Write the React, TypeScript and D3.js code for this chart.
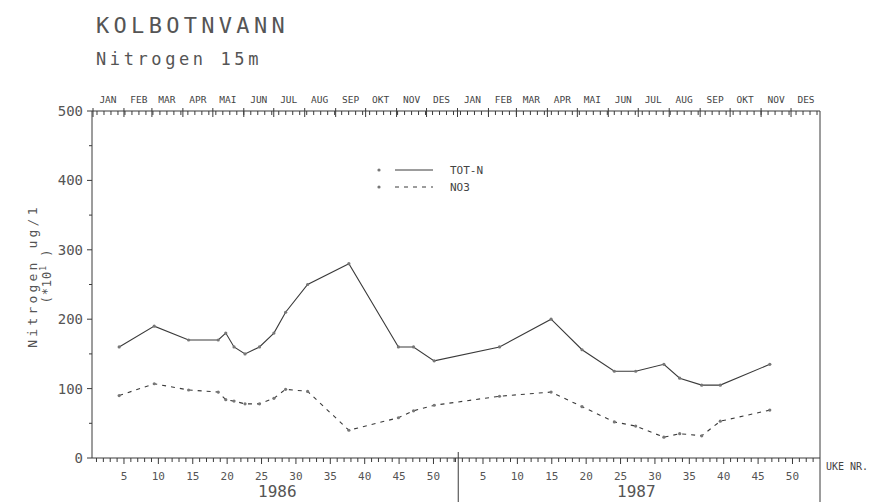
import { useEffect, useRef } from "react";
import * as d3 from "d3";

// sampling weeks (UKE NR.) per year
const sampleYear = [
  1986, 1986, 1986, 1986, 1986, 1986, 1986, 1986, 1986, 1986, 1986, 1986, 1986, 1986, 1986,
  1987, 1987, 1987, 1987, 1987, 1987, 1987, 1987, 1987, 1987,
];
const sampleWeek = [
  4.3, 9.4, 14.4, 18.7, 19.8, 21, 22.6, 24.7, 26.8, 28.5, 31.7, 37.7, 44.9, 47.1, 50.1,
  7.4, 14.9, 19.4, 24.1, 27.2, 31.3, 33.6, 36.8, 39.5, 46.7,
];
const totN = [
  160, 190, 170, 170, 180, 160, 150, 160, 180, 210, 250, 280, 160, 160, 140,
  160, 200, 156, 125, 125, 135, 115, 105, 105, 135,
];
const no3 = [
  90, 107, 98, 95, 84, 82, 78, 78, 86, 99, 96, 40, 58, 68, 76,
  89, 95, 74, 52, 46, 30, 35, 32, 53, 69,
];

const years = [1986, 1987];
const monthLabels = ["JAN", "FEB", "MAR", "APR", "MAI", "JUN", "JUL", "AUG", "SEP", "OKT", "NOV", "DES"];
const yTicks = [0, 100, 200, 300, 400, 500];
const weekLabels = [5, 10, 15, 20, 25, 30, 35, 40, 45, 50];

const INK = "#3a3a3a";
const TXT = "#555";
const MONO = "'DejaVu Sans Mono', 'Liberation Mono', monospace";

export default function App() {
  const svgRef = useRef<SVGSVGElement>(null);

  useEffect(() => {
    if (!svgRef.current) return;
    const svg = d3.select(svgRef.current);
    svg.selectAll("*").remove();

    const left = 92, right = 820, top = 111, bottom = 458;
    const yearOffset = (yr: number) => (yr === 1986 ? 0 : 52.2);

    // continuous week index across both years
    const x = d3.scaleLinear().domain([0.35, 106.2]).range([left, right]);
    // calendar scale for the month axis on top
    const xDate = d3
      .scaleTime()
      .domain([new Date(1986, 0, 1), new Date(1988, 0, 1)])
      .range([left + 1, right + 2]);
    const y = d3.scaleLinear().domain([0, 500]).range([bottom, top]);

    // titles
    svg.append("text").attr("x", 96).attr("y", 33).text("KOLBOTNVANN")
      .style("font-family", MONO).style("font-size", "22px").style("letter-spacing", "4.3px")
      .style("fill", TXT).style("font-weight", 300);
    svg.append("text").attr("x", 96).attr("y", 65).text("Nitrogen 15m")
      .style("font-family", MONO).style("font-size", "17px").style("letter-spacing", "3.6px")
      .style("fill", TXT);

    const g = svg.append("g").style("stroke", INK).style("stroke-width", "1px");

    // frame
    g.append("line").attr("x1", left).attr("x2", left).attr("y1", top).attr("y2", bottom);
    g.append("line").attr("x1", left).attr("x2", right).attr("y1", bottom).attr("y2", bottom);
    g.append("line").attr("x1", left).attr("x2", right).attr("y1", top).attr("y2", top);
    g.append("line").attr("x1", right).attr("x2", right).attr("y1", top).attr("y2", 502);
    g.append("line").attr("x1", x(53.6)).attr("x2", x(53.6)).attr("y1", bottom - 6).attr("y2", 502);

    // y axis ticks
    d3.range(0, 501, 50).forEach((v) => {
      g.append("line").attr("x1", left - (v % 100 === 0 ? 5 : 3)).attr("x2", left)
        .attr("y1", y(v)).attr("y2", y(v));
    });
    svg.append("g").selectAll("text").data(yTicks).enter().append("text")
      .attr("x", left - 9).attr("y", (d) => y(d)).attr("dy", "0.35em")
      .attr("text-anchor", "end").text((d) => d)
      .style("font-family", MONO).style("font-size", "14px").style("fill", TXT);

    // week ticks, bottom and top
    years.forEach((yr) => {
      d3.range(1, 54).forEach((w) => {
        const xx = x(yearOffset(yr) + w);
        if (xx > right) return;
        const big = w % 5 === 0;
        g.append("line").attr("x1", xx).attr("x2", xx)
          .attr("y1", bottom).attr("y2", bottom + (big ? 6 : 4));
      });
      svg.append("g").selectAll("text").data(weekLabels).enter().append("text")
        .attr("x", (d) => x(yearOffset(yr) + d)).attr("y", bottom + 22)
        .attr("text-anchor", "middle").text((d) => d)
        .style("font-family", MONO).style("font-size", "11px").style("fill", TXT);
      svg.append("text").attr("x", x(yearOffset(yr) + 27.3)).attr("y", 497)
        .attr("text-anchor", "middle").text(yr)
        .style("font-family", MONO).style("font-size", "16px").style("fill", TXT);
    });

    // top month axis
    const weekDays = d3.timeWeek.every(1)!.range(new Date(1986, 0, 1), new Date(1987, 11, 31));
    weekDays.forEach((d) => {
      g.append("line").attr("x1", xDate(d)).attr("x2", xDate(d)).attr("y1", top).attr("y2", top + 4);
    });
    const months = d3.timeMonth.range(new Date(1986, 0, 1), new Date(1988, 0, 1));
    months.forEach((m) => {
      g.append("line").attr("x1", xDate(m)).attr("x2", xDate(m)).attr("y1", top - 3).attr("y2", top + 6);
      const mid = new Date(m.getFullYear(), m.getMonth(), 16);
      svg.append("text").attr("x", xDate(mid)).attr("y", top - 8)
        .attr("text-anchor", "middle").text(monthLabels[m.getMonth()])
        .style("font-family", MONO).style("font-size", "9.5px").style("fill", "#444");
    });

    svg.append("text").attr("x", 826).attr("y", bottom + 12).text("UKE NR.")
      .style("font-family", MONO).style("font-size", "10px").style("fill", "#444");

    // y axis title
    svg.append("text").attr("transform", "translate(37,276) rotate(-90)")
      .attr("text-anchor", "middle").text("Nitrogen ug/1")
      .style("font-family", MONO).style("font-size", "13px").style("letter-spacing", "3.2px")
      .style("fill", TXT);
    const sub = svg.append("text").attr("transform", "translate(51,276) rotate(-90)")
      .attr("text-anchor", "middle")
      .style("font-family", MONO).style("font-size", "12px").style("letter-spacing", "1px")
      .style("fill", TXT);
    sub.append("tspan").text("(*10");
    sub.append("tspan").attr("dy", -5).style("font-size", "8px").text("1");
    sub.append("tspan").attr("dy", 5).text(" )");

    // data
    const idx = d3.range(sampleWeek.length);
    const xi = (i: number) => x(yearOffset(sampleYear[i]) + sampleWeek[i]);
    const series = [
      { values: totN, dash: null as string | null },
      { values: no3, dash: "4,5" },
    ];
    series.forEach((s) => {
      const line = d3.line<number>().x((i) => xi(i)).y((i) => y(s.values[i]));
      svg.append("path").attr("d", line(idx)).style("fill", "none")
        .style("stroke", INK).style("stroke-width", "1.1px")
        .style("stroke-dasharray", s.dash ?? "none");
      svg.append("g").selectAll("circle").data(idx).enter().append("circle")
        .attr("cx", (i) => xi(i)).attr("cy", (i) => y(s.values[i])).attr("r", 1.6)
        .style("fill", "#777");
    });

    // legend
    const legend = [
      { label: "TOT-N", dash: null as string | null },
      { label: "NO3", dash: "4,5" },
    ];
    legend.forEach((l, k) => {
      const ly = 170 + k * 17;
      svg.append("circle").attr("cx", 379).attr("cy", ly).attr("r", 1.6).style("fill", "#777");
      svg.append("line").attr("x1", 395).attr("x2", 433).attr("y1", ly).attr("y2", ly)
        .style("stroke", INK).style("stroke-width", "1px")
        .style("stroke-dasharray", l.dash ?? "none");
      svg.append("text").attr("x", 450).attr("y", ly).attr("dy", "0.35em").text(l.label)
        .style("font-family", MONO).style("font-size", "11px").style("fill", "#444");
    });
  }, []);

  return (
    <svg
      ref={svgRef}
      width={875}
      height={502}
      style={{ position: "absolute", left: 0, top: 0, background: "#fff" }}
    ></svg>
  );
}
